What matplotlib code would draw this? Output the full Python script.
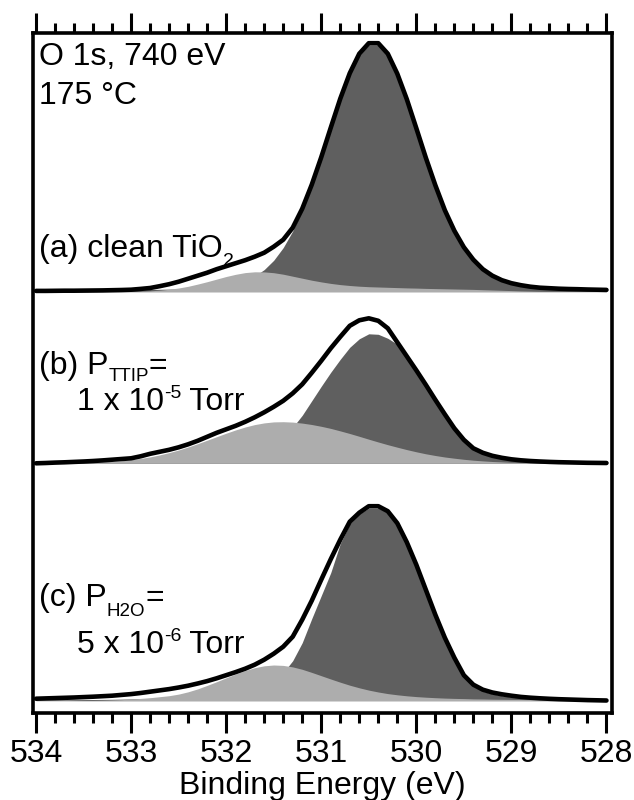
import numpy as np
import matplotlib
matplotlib.use("Agg")
import matplotlib.pyplot as plt
from matplotlib.ticker import MultipleLocator

plt.rcParams['font.family'] = ['Liberation Sans', 'DejaVu Sans']

# ---------------- data (heights above each spectrum's baseline) ----------------
binding_energy = np.round(np.arange(534.0, 527.95, -0.1), 1)   # 534.0 ... 528.0 eV

# (a) clean TiO2
data_a = [0.8, 0.8, 0.9, 1.0, 1.0, 1.1, 1.2, 1.3, 1.5, 1.7,
          2.0, 2.8, 3.7, 5.5, 7.5, 10.0, 13.0, 16.0, 19.0, 22.5,
          25.5, 28.5, 31.5, 35.0, 39.0, 45.0, 52.0, 64.0, 83.0, 107.0,
          134.5, 164.0, 193.0, 218.5, 238.0, 248.5, 248.5, 238.0, 218.0, 192.5,
          163.5, 134.0, 106.5, 81.5, 61.0, 44.5, 32.0, 22.5, 16.0, 11.5,
          8.5, 6.5, 5.0, 4.0, 3.5, 3.0, 2.7, 2.5, 2.2, 2.0,
          1.8]
dark_a = [1.0, 1.0, 1.1, 1.2, 1.2, 1.3, 1.4, 1.5, 1.6, 1.7,
          1.9, 2.0, 2.2, 2.4, 2.6, 2.8, 3.2, 3.6, 4.2, 5.0,
          6.3, 8.2, 11.1, 15.6, 22.1, 31.4, 44.1, 60.7, 81.5, 106.2,
          134.0, 163.3, 191.9, 217.2, 236.3, 246.7, 246.7, 236.3, 217.2, 191.9,
          163.3, 134.0, 106.2, 81.5, 60.7, 44.1, 31.4, 22.1, 15.6, 11.1,
          8.2, 6.3, 5.0, 4.2, 3.6, 3.2, 2.8, 2.6, 2.4, 2.2,
          2.0]
light_a = [0, 0, 0, 0, 0, 0, 0, 0, 0.1, 0.2,
           0.3, 0.5, 0.9, 1.5, 2.4, 3.7, 5.4, 7.6, 10.0, 12.6,
           15.2, 17.4, 19.1, 19.9, 19.8, 19.0, 17.5, 15.5, 13.5, 11.5,
           9.8, 8.3, 7.1, 6.2, 5.5, 5.0, 4.7, 4.4, 4.1, 3.8,
           3.6, 3.3, 3.1, 2.9, 2.7, 2.5, 2.3, 2.0, 1.7, 1.4,
           1.1, 0.8, 0.6, 0.4, 0.3, 0.2, 0.1, 0.1, 0, 0,
           0]

# (b) P_TTIP = 1e-5 Torr
data_b = [0.0, 0.3, 0.7, 1.0, 1.4, 1.8, 2.3, 2.9, 3.6, 4.3,
          5.0, 7.0, 9.5, 11.5, 13.5, 16.0, 19.0, 22.5, 26.5, 30.5,
          34.0, 37.5, 41.5, 46.0, 51.0, 56.5, 62.5, 70.0, 79.0, 90.5,
          102.5, 115.0, 126.5, 137.5, 143.0, 145.0, 142.5, 135.0, 121.0, 107.0,
          93.0, 78.5, 63.5, 49.0, 35.0, 23.5, 15.0, 10.5, 7.5, 5.5,
          4.0, 3.0, 2.3, 1.8, 1.4, 1.1, 0.9, 0.7, 0.5, 0.4,
          0.3]
dark_b = [0.8, 0.8, 0.9, 0.9, 1.0, 1.0, 1.1, 1.2, 1.3, 1.4,
          1.5, 1.7, 1.9, 2.1, 2.4, 2.8, 3.2, 3.7, 4.4, 5.3,
          6.5, 8.0, 10.0, 12.5, 16.0, 21.0, 27.5, 36.0, 48.0, 62.5,
          77.0, 91.0, 104.0, 116.0, 124.5, 129.5, 129.0, 125.0, 119.0, 107.0,
          92.0, 78.0, 63.0, 49.0, 35.0, 23.0, 15.0, 10.5, 7.5, 5.5,
          3.8, 2.8, 2.1, 1.6, 1.3, 1.0, 0.8, 0.6, 0.5, 0.4,
          0.3]
light_b = [0.05, 0.1, 0.15, 0.25, 0.4, 0.6, 0.9, 1.3, 1.8, 2.6,
           3.6, 4.9, 6.4, 8.4, 10.7, 13.3, 16.3, 19.6, 23.1, 26.6,
           30.1, 33.4, 36.3, 38.7, 40.4, 41.4, 41.6, 41.2, 40.2, 38.8,
           37.0, 34.9, 32.4, 29.8, 27.0, 24.1, 21.3, 18.6, 16.1, 13.7,
           11.5, 9.5, 7.8, 6.3, 5.1, 4.0, 3.1, 2.4, 1.8, 1.4,
           1.0, 0.7, 0.5, 0.35, 0.25, 0.17, 0.1, 0.1, 0, 0,
           0]

# (c) P_H2O = 5e-6 Torr
data_c = [2.0, 2.3, 2.6, 2.9, 3.2, 3.6, 4.0, 4.5, 5.0, 5.8,
          6.6, 7.7, 9.0, 10.3, 11.6, 13.2, 15.0, 17.2, 19.6, 22.4,
          25.5, 28.6, 32.0, 36.0, 41.0, 47.0, 54.0, 64.0, 81.0, 100.0,
          121.0, 141.5, 161.0, 179.0, 188.0, 194.5, 194.5, 189.5, 177.5, 158.5,
          136.0, 111.0, 86.0, 63.0, 43.0, 25.5, 16.0, 11.0, 8.2, 6.4,
          5.0, 3.8, 3.0, 2.4, 1.9, 1.5, 1.2, 0.9, 0.6, 0.4,
          0.2]
dark_c = [0.8, 0.8, 0.9, 0.9, 1.0, 1.1, 1.2, 1.3, 1.4, 1.6,
          1.8, 2.0, 2.3, 2.6, 3.0, 3.5, 4.1, 4.9, 5.8, 7.0,
          8.5, 10.0, 12.0, 14.5, 18.0, 22.0, 28.0, 40.0, 58.0, 82.0,
          105.0, 128.0, 157.0, 177.0, 187.0, 192.5, 192.5, 188.0, 176.0, 158.0,
          134.5, 109.0, 84.0, 61.0, 41.0, 24.0, 14.5, 9.5, 6.8, 5.0,
          3.8, 3.0, 2.4, 2.0, 1.7, 1.4, 1.2, 1.0, 0.9, 0.8,
          0.7]
light_c = [0, 0, 0, 0, 0.1, 0.2, 0.3, 0.5, 0.8, 1.1,
           1.6, 2.3, 3.0, 4.0, 5.0, 6.6, 8.9, 11.8, 15.3, 19.0,
           22.9, 26.7, 30.2, 33.0, 34.9, 35.7, 35.3, 33.8, 31.4, 28.3,
           25.0, 21.7, 18.5, 15.5, 12.9, 10.6, 8.7, 7.1, 5.9, 4.9,
           4.1, 3.5, 3.0, 2.6, 2.3, 2.1, 1.8, 1.7, 1.5, 1.4,
           1.3, 1.2, 1.1, 1.1, 1.0, 0.9, 0.9, 0.8, 0.8, 0.7,
           0.7]

offsets = [421.3, 249.7, 12.3]          # vertical stacking of spectra (a), (b), (c)
x_ticks = [534, 533, 532, 531, 530, 529, 528]

# ---------------- figure ----------------
W, H = 634, 800
fig = plt.figure(figsize=(W / 100, H / 100), dpi=100)
ax = fig.add_axes([32.5 / W, 1 - 713 / H, (611.5 - 32.5) / W, (713 - 33) / H])

DARK = '#5f5f5f'
LIGHT = '#adadad'

spectra = [(data_a, dark_a, light_a), (data_b, dark_b, light_b), (data_c, dark_c, light_c)]
E = binding_energy
for (dat, drk, lgt), off in zip(spectra, offsets):
    dat, drk, lgt = np.asarray(dat), np.asarray(drk), np.asarray(lgt)
    ax.fill_between(E, off, off + drk, color=DARK, lw=0, zorder=1)
    ax.fill_between(E, off, off + lgt, color=LIGHT, lw=0, zorder=2)
    ax.plot(E, off + dat, color='black', lw=3.3, solid_joinstyle='round',
            solid_capstyle='round', zorder=3)

ax.set_xlim(534.037, 527.947)
ax.set_ylim(0, 680)
ax.set_xticks(x_ticks)
ax.xaxis.set_minor_locator(MultipleLocator(0.2))
ax.set_yticks([])
for s in ax.spines.values():
    s.set_linewidth(2.6)
ax.tick_params(axis='x', which='both', direction='out', top=True, bottom=True,
               labeltop=False, width=2.2, labelsize=23, pad=4)
ax.tick_params(axis='x', which='major', length=14.5)
ax.tick_params(axis='x', which='minor', length=7.2)
ax.set_xlabel('Binding Energy (eV)', fontsize=23, labelpad=2)

# ---------------- annotations ----------------
renderer = fig.canvas.get_renderer()


def rich(x_px, y_px, parts):
    x = x_px
    for s, size, dy in parts:
        t = fig.text(x / W, 1 - (y_px + dy) / H, s, fontsize=size,
                     ha='left', va='baseline')
        x += t.get_window_extent(renderer).width


rich(39, 65, [('O 1s, 740 eV', 23, 0)])
rich(39, 104, [('175 °C', 23, 0)])
rich(39, 257, [('(a) clean TiO', 23, 0), ('2', 14, 9)])
rich(39, 374, [('(b) P', 23, 0), ('TTIP', 13.5, 7), ('=', 23, 0)])
rich(77, 410, [('1 x 10', 23, 0), ('-5', 14, -12), (' Torr', 23, 0)])
rich(39, 606, [('(c) P', 23, 0), ('H2O', 13.5, 10), ('=', 23, 0)])
rich(77, 653, [('5 x 10', 23, 0), ('-6', 14, -12), (' Torr', 23, 0)])

fig.savefig('out.png', dpi=100)
